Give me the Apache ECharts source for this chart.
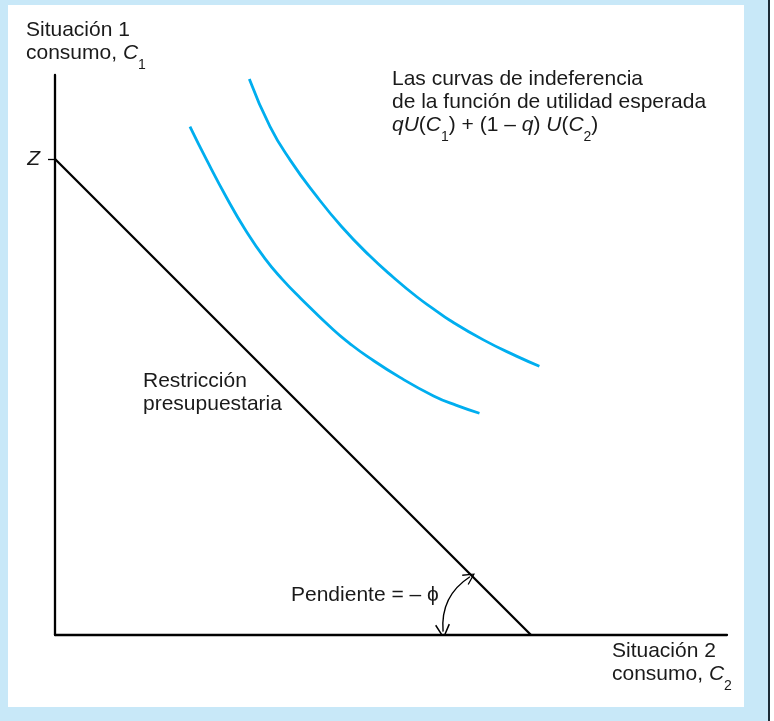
<!DOCTYPE html>
<html>
<head>
<meta charset="utf-8">
<script src="https://cdn.jsdelivr.net/npm/echarts@6/dist/echarts.min.js"></script>
<style>
  html, body { margin:0; padding:0; background:#c8e8f8; }
  #panel { position:absolute; left:8px; top:5px; width:736px; height:702px; background:#ffffff; }
  #edge { position:absolute; left:768px; top:0; width:2px; height:721px; background:#1d2b36; }
  #edge2 { position:absolute; left:770px; top:0; width:4px; height:721px; background:#ffffff; }
  #chart { position:absolute; left:0; top:0; width:774px; height:721px; }
</style>
</head>
<body>
<div id="panel"></div>
<div id="edge"></div>
<div id="edge2"></div>
<div id="chart"></div>
<script>
// ---- data (axis units: C2 horizontal, C1 vertical) ----
const zValue = 8.5;
const budgetC2 = [0, 8.5];
const budgetC1 = [8.5, 0];

const curveLowC2 = [2.41, 2.71, 3.07, 3.39, 3.75, 4.06, 4.38, 4.97, 5.27, 5.57, 6.16, 6.76, 7.17, 7.58];
const curveLowC1 = [9.08, 8.48, 7.80, 7.25, 6.72, 6.35, 6.02, 5.45, 5.20, 4.98, 4.60, 4.27, 4.10, 3.96];

const curveHighC2 = [3.47, 3.84, 4.20, 4.66, 5.12, 5.61, 6.05, 6.46, 6.75, 7.05, 7.65, 8.24, 8.65];
const curveHighC1 = [9.93, 9.08, 8.48, 7.85, 7.29, 6.78, 6.38, 6.04, 5.83, 5.62, 5.27, 4.98, 4.80];

const slopeArrowC2 = [6.93, 7.41];
const slopeArrowC1 = [0.06, 1.04];

const zTickLabels = ['Z'];

// ---- build ----
const zip = (xs, ys) => xs.map((x, i) => [x, ys[i]]);
const FONT = "'Liberation Sans', Arial, Helvetica, sans-serif";
const FS = 21;
const LH = 23;
const TXT = '#1a1a1a';
const rich = {
  i: { fontStyle: 'italic', fontSize: FS, fontFamily: FONT, fill: TXT, lineHeight: LH },
  s: { fontSize: 14, fontFamily: FONT, fill: TXT, lineHeight: 14, padding: [12, 0, -12, 0] }
};
function label(x, y, text) {
  return {
    type: 'text', x: x, y: y, silent: true,
    style: {
      text: text, fontSize: FS, fontFamily: FONT, fill: TXT,
      lineHeight: LH, verticalAlign: 'top', align: 'left', rich: rich
    }
  };
}
const chevron = 'path://M5,0 L10,10 L9.1,10.6 L5,2.2 L0.9,10.6 L0,10 Z';

const chart = echarts.init(document.getElementById('chart'), null, { renderer: 'canvas' });
chart.setOption({
  backgroundColor: 'transparent',
  animation: false,
  grid: { left: 55, right: 47, top: 75, bottom: 86 },
  xAxis: {
    type: 'value', min: 0, max: 12,
    axisLine: { show: true, lineStyle: { color: '#000', width: 2.3 } },
    axisTick: { show: false }, axisLabel: { show: false }, splitLine: { show: false }
  },
  yAxis: {
    type: 'value', min: 0, max: 10,
    axisLine: { show: true, lineStyle: { color: '#000', width: 2.3 } },
    axisTick: { show: true, customValues: [zValue], length: 7, lineStyle: { color: '#000', width: 1.3 } },
    axisLabel: {
      show: true, customValues: [zValue], formatter: () => zTickLabels[0],
      fontStyle: 'italic', fontSize: FS, fontFamily: FONT, color: TXT, margin: 15
    },
    splitLine: { show: false }
  },
  series: [
    {
      type: 'line', data: zip(budgetC2, budgetC1), showSymbol: false, symbol: 'none',
      lineStyle: { color: '#000', width: 2.3 }, silent: true
    },
    {
      type: 'line', data: zip(curveLowC2, curveLowC1), smooth: 0.5,
      showSymbol: false, symbol: 'none',
      lineStyle: { color: '#00aeef', width: 2.8 }, silent: true
    },
    {
      type: 'line', data: zip(curveHighC2, curveHighC1), smooth: 0.5,
      showSymbol: false, symbol: 'none',
      lineStyle: { color: '#00aeef', width: 2.8 }, silent: true
    },
    {
      type: 'lines', coordinateSystem: 'cartesian2d', silent: true,
      symbol: [chevron, chevron],
      symbolSize: [15, 12],
      lineStyle: { color: '#000', width: 1.4, curveness: 0.3, opacity: 1 },
      itemStyle: { color: '#000' },
      data: [{ coords: zip(slopeArrowC2, slopeArrowC1) }]
    }
  ],
  graphic: [
    label(26, 18.5, 'Situación 1\nconsumo, {i|C}{s|1}'),
    label(392, 67.5, 'Las curvas de indeferencia\nde la función de utilidad esperada\n{i|qU}({i|C}{s|1}) + (1 – {i|q}) {i|U}({i|C}{s|2})'),
    label(143, 369.5, 'Restricción\npresupuestaria'),
    label(291, 584, 'Pendiente = – ϕ'),
    label(612, 639.5, 'Situación 2\nconsumo, {i|C}{s|2}')
  ]
});
</script>
</body>
</html>
